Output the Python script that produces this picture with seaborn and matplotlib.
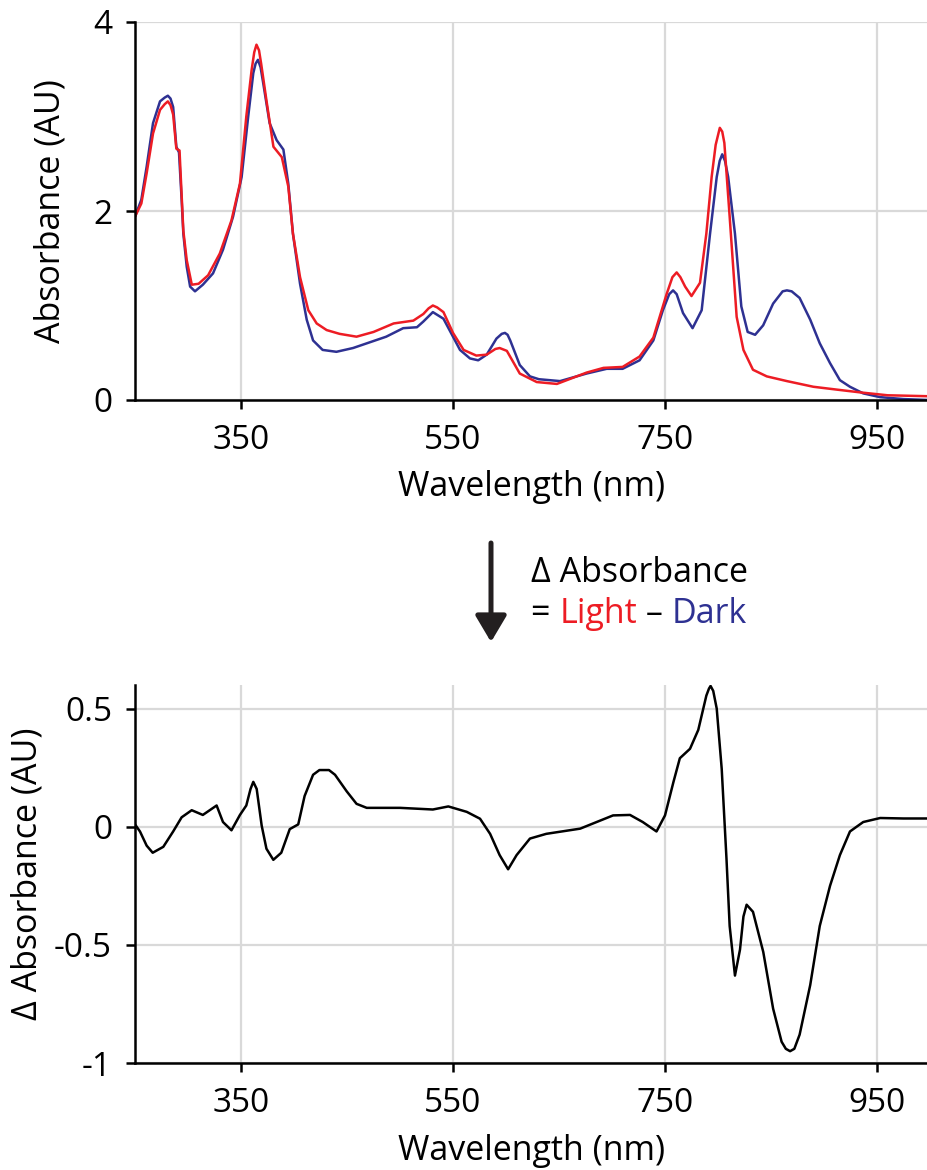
import matplotlib
matplotlib.use("Agg")
import matplotlib.pyplot as plt
from matplotlib.patches import FancyArrowPatch
import numpy as np
import pandas as pd
import seaborn as sns

# ---------------- data ----------------
wl_dark = [250, 256, 261, 267, 273.6, 278, 281, 283.5, 286, 289, 291.5, 294, 295.6, 298.8, 302, 306.6, 314,
           323.6, 333, 342.5, 350.6, 356.8, 361.6, 363.8, 366, 368.5, 371, 377, 383.6, 390, 394.6, 399, 405.7,
           412, 418, 427, 440, 455.7, 487, 503, 516, 522, 531, 541, 550, 556.6, 566, 573.8, 581.8,
           591, 596, 599, 601.5, 604, 613, 622.6, 631, 651, 676, 695, 710, 726, 739, 748, 754, 757.6, 761, 767, 776,
           784.6, 792.5, 798.8, 801.6, 804, 806.6, 809.6, 816, 822, 828, 835, 842.6, 852, 861, 865, 869.5, 877, 887,
           896, 905.7, 915, 924.5, 937, 953, 975, 998]
abs_dark = [1.94, 2.12, 2.47, 2.93, 3.16, 3.20, 3.22, 3.19, 3.10, 2.68, 2.62, 2.12, 1.76, 1.41, 1.20, 1.15, 1.22,
            1.34, 1.59, 1.94, 2.36, 3.00, 3.46, 3.56, 3.60, 3.52, 3.35, 2.93, 2.75, 2.65, 2.29, 1.76, 1.23,
            0.85, 0.63, 0.53, 0.51, 0.55, 0.67, 0.76, 0.77, 0.83, 0.93, 0.86, 0.67, 0.53, 0.44, 0.42, 0.48,
            0.65, 0.70, 0.71, 0.69, 0.63, 0.37, 0.25, 0.22, 0.20, 0.28, 0.33, 0.33, 0.42, 0.63, 0.95, 1.12, 1.16, 1.12, 0.92, 0.76,
            0.95, 1.76, 2.36, 2.53, 2.60, 2.53, 2.36, 1.76, 0.99, 0.72, 0.69, 0.79, 1.02, 1.15, 1.16, 1.15, 1.08, 0.85,
            0.60, 0.39, 0.21, 0.14, 0.07, 0.03, 0.01, 0.0]

wl_light = [250, 256, 261, 267, 273.6, 278, 281, 283.5, 286, 289, 292, 295.6, 298.8, 303.6, 310, 319, 330, 341,
            349, 355, 360, 362.5, 364.6, 367, 369, 374, 380.6, 388.5, 394.6, 399, 405.7, 413.5, 421.4, 430.8,
            443, 459, 475, 494, 512.6, 522, 527, 531, 535, 541, 550, 560, 572, 581.8, 590, 594, 600.8, 613, 629,
            648, 676, 692, 710, 726, 739, 751.5, 757, 761, 764.5, 769, 775, 783, 789, 794, 797.8, 801.7, 804, 806, 811,
            817.6, 824, 833, 846, 865, 890, 912, 934.6, 960, 998]
abs_light = [1.94, 2.08, 2.40, 2.82, 3.07, 3.13, 3.16, 3.12, 3.02, 2.66, 2.64, 1.79, 1.48, 1.22, 1.23, 1.32, 1.55, 1.90,
             2.29, 3.00, 3.49, 3.68, 3.76, 3.70, 3.56, 3.17, 2.68, 2.57, 2.26, 1.76, 1.30, 0.95, 0.81, 0.74,
             0.70, 0.67, 0.72, 0.81, 0.84, 0.91, 0.97, 1.00, 0.98, 0.93, 0.71, 0.53, 0.47, 0.48, 0.54, 0.55, 0.52, 0.28, 0.19,
             0.17, 0.29, 0.34, 0.35, 0.46, 0.66, 1.12, 1.30, 1.35, 1.30, 1.20, 1.10, 1.24, 1.76, 2.36, 2.70, 2.88, 2.84, 2.72, 1.94,
             0.88, 0.53, 0.32, 0.25, 0.20, 0.14, 0.11, 0.08, 0.05, 0.04]

wl_diff = [250, 254.7, 261, 266.7, 276.7, 286, 294, 303.5, 314, 327, 333, 341, 349, 355, 359, 361.6, 364.8,
           369.5, 374, 380.5, 388, 396, 404, 410, 418, 424, 429, 433, 438.7, 449.7, 459, 468.6, 500, 531,
           545.6, 563, 575.5, 585, 594, 602, 610, 622.6, 638, 670, 701, 717, 729, 742, 750, 758,
           764, 773.6, 781.4, 789, 791.5, 793, 795.5, 798.8, 803.5, 808, 811, 816, 820.75, 824, 827, 833, 842.7, 852,
           860, 864, 868, 872, 877, 887, 896, 905.7, 915, 924.5, 937, 953, 975, 998]
abs_diff = [0.01, -0.02, -0.08, -0.11, -0.085, -0.02, 0.04, 0.07, 0.05, 0.09, 0.02, -0.015, 0.05, 0.09, 0.16, 0.19, 0.16,
            0.005, -0.093, -0.14, -0.11, -0.01, 0.01, 0.13, 0.22, 0.24, 0.24, 0.24, 0.22, 0.15, 0.097, 0.08, 0.08, 0.073,
            0.086, 0.063, 0.034, -0.03, -0.12, -0.18, -0.12, -0.05, -0.03, -0.008, 0.048, 0.05, 0.02, -0.02, 0.048, 0.19,
            0.29, 0.33, 0.41, 0.555, 0.585, 0.596, 0.575, 0.50, 0.245, -0.135, -0.42, -0.63, -0.52, -0.38, -0.33, -0.36, -0.53, -0.77,
            -0.91, -0.94, -0.95, -0.94, -0.88, -0.67, -0.42, -0.25, -0.12, -0.02, 0.02, 0.037, 0.035, 0.035]

x_ticks = [350, 550, 750, 950]
top_y_ticks = [0, 2, 4]
top_y_labels = ["0", "2", "4"]
bot_y_ticks = [-1, -0.5, 0, 0.5]
bot_y_labels = ["-1", "-0.5", "0", "0.5"]

RED = "#ed1c24"
BLUE = "#2e3192"
BLACK = "#000000"

# ---------------- style ----------------
sns.set_style("whitegrid")
plt.rcParams["font.family"] = ["Open Sans", "DejaVu Sans"]
plt.rcParams["axes.unicode_minus"] = False

W, H = 928, 1170
fig = plt.figure(figsize=(W / 100, H / 100), dpi=100)
fig.patch.set_facecolor("white")

left = 135 / W
ax1 = fig.add_axes([left, 1 - 400 / H, 1 - left, 378 / H])
ax2 = fig.add_axes([left, 1 - 1063 / H, 1 - left, 378 / H])

df_dark = pd.DataFrame({"wl": wl_dark, "A": abs_dark})
df_light = pd.DataFrame({"wl": wl_light, "A": abs_light})
df_diff = pd.DataFrame({"wl": wl_diff, "A": abs_diff})

LW = 1.8
sns.lineplot(data=df_dark, x="wl", y="A", ax=ax1, color=BLUE, lw=LW, estimator=None)
sns.lineplot(data=df_light, x="wl", y="A", ax=ax1, color=RED, lw=LW, estimator=None)
sns.lineplot(data=df_diff, x="wl", y="A", ax=ax2, color=BLACK, lw=LW, estimator=None)

xmax = 250 + (W - 135) / 1.06
ax1.set_xlim(250, xmax)
ax2.set_xlim(250, xmax)
ax1.set_ylim(0, 4)
ax2.set_ylim(-1, 0.6)

TICK_FS = 24
LABEL_FS = 24.5

for ax in (ax1, ax2):
    ax.set_facecolor("white")
    ax.grid(True, color="#d9d9d9", lw=1.6)
    ax.set_axisbelow(True)
    for s in ("top", "right"):
        ax.spines[s].set_visible(False)
    for s in ("left", "bottom"):
        ax.spines[s].set_visible(True)
        ax.spines[s].set_color("black")
        ax.spines[s].set_linewidth(1.8)
    ax.tick_params(axis="both", which="major", bottom=True, left=True, direction="out",
                   length=6.5, width=1.8, color="black", labelsize=TICK_FS,
                   labelcolor="black")
    ax.tick_params(axis="x", pad=11)
    ax.tick_params(axis="y", pad=10)
    ax.set_xticks(x_ticks)
    ax.set_xticklabels([str(t) for t in x_ticks])
    ax.set_xlabel("Wavelength (nm)", fontsize=LABEL_FS, color="black", labelpad=9.5)

ax1.set_yticks(top_y_ticks)
ax1.set_yticklabels(top_y_labels)
ax2.set_yticks(bot_y_ticks)
ax2.set_yticklabels(bot_y_labels)

ax1.set_ylabel("Absorbance (AU)", fontsize=LABEL_FS, color="black")
ax2.set_ylabel("Δ Absorbance (AU)", fontsize=LABEL_FS, color="black")
ax1.yaxis.set_label_coords((68 - 135) / (W - 135), 0.5)
ax2.yaxis.set_label_coords((45 - 135) / (W - 135), 0.5)

# ---------------- arrow + annotation ----------------
arrow = FancyArrowPatch((491 / W, 1 - 543 / H), (491 / W, 1 - 642 / H),
                        transform=fig.transFigure,
                        arrowstyle="-|>,head_length=1.6,head_width=0.95",
                        mutation_scale=10, shrinkA=0, shrinkB=0,
                        lw=3.6, color="#231f20")
fig.add_artist(arrow)

ANN_FS = 24.5
fig.text(531 / W, 1 - 582 / H, "Δ Absorbance", fontsize=ANN_FS, color="black",
         ha="left", va="baseline")

fig.canvas.draw()
renderer = fig.canvas.get_renderer()
xpix = 531
pieces = [("= ", "black"), ("Light", RED), (" – ", "black"), ("Dark", BLUE)]
for txt, col in pieces:
    t = fig.text(xpix / W, 1 - 623 / H, txt, fontsize=ANN_FS, color=col,
                 ha="left", va="baseline")
    bb = t.get_window_extent(renderer=renderer)
    xpix = bb.x1

fig.savefig("out.png", dpi=100, facecolor="white")
